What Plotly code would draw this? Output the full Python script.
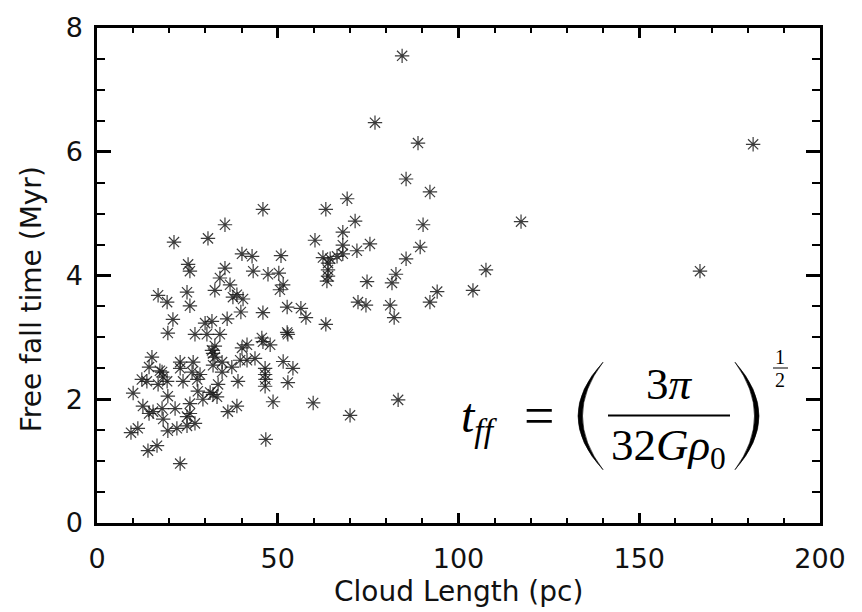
import plotly.graph_objects as go

# ---------------- data ----------------
cloud_length_pc = [
    84.4, 76.9, 88.8, 181.5, 85.5, 92.1, 69.2, 45.9, 63.3, 71.4,
    35.4, 90.2, 117.3, 21.3, 30.7, 60.3, 68.0, 68.0, 75.5, 40.1,
    42.9, 50.9, 62.5, 64.5, 66.4, 68.0, 71.9, 85.5, 89.4, 25.2,
    25.7, 35.4, 43.2, 47.3, 50.3, 63.9, 63.9, 63.9, 82.7, 107.6,
    166.8, 51.5, 50.6, 63.6, 74.7, 81.6, 94.1, 92.1, 104.0, 16.9,
    19.4, 24.9, 25.7, 32.6, 34.0, 36.8, 38.7, 37.6, 40.4, 39.8,
    45.9, 52.6, 56.4, 57.8, 63.3, 72.2, 74.4, 81.1, 82.2, 21.0,
    19.6, 27.1, 29.9, 31.8, 36.0, 30.4, 34.0, 52.6, 52.8, 45.6,
    45.9, 47.9, 32.6, 32.1, 40.1, 41.5, 15.2, 14.4, 18.0, 17.4,
    18.3, 12.4, 13.8, 16.9, 19.4, 23.0, 26.6, 23.0, 23.8, 28.5,
    10.0, 19.6, 25.7, 12.7, 14.4, 15.5, 18.0, 21.6, 18.3, 11.3,
    9.4, 19.6, 22.1, 24.9, 27.1, 25.7, 14.1, 16.6, 23.0, 31.8,
    32.6, 29.3, 32.1, 34.6, 37.3, 32.1, 34.6, 33.5, 33.2, 38.7,
    36.2, 51.5, 54.2, 46.5, 46.5, 46.5, 39.0, 52.8, 48.7, 59.8,
    46.7, 83.3, 70.0, 27.9, 39.6, 43.7, 26.3, 27.7, 31.3, 46.6,
    41.5, 24.9,
]
free_fall_myr = [
    7.55, 6.47, 6.14, 6.12, 5.56, 5.35, 5.24, 5.07, 5.07, 4.88,
    4.82, 4.82, 4.87, 4.54, 4.60, 4.57, 4.70, 4.49, 4.51, 4.35,
    4.31, 4.32, 4.29, 4.27, 4.31, 4.35, 4.40, 4.27, 4.46, 4.18,
    4.07, 4.12, 4.07, 4.02, 4.04, 4.20, 4.09, 3.99, 4.02, 4.09,
    4.07, 3.85, 3.77, 3.91, 3.90, 3.88, 3.74, 3.57, 3.76, 3.68,
    3.57, 3.73, 3.51, 3.76, 3.96, 3.85, 3.69, 3.65, 3.62, 3.41,
    3.40, 3.49, 3.47, 3.32, 3.21, 3.57, 3.52, 3.52, 3.32, 3.29,
    3.07, 3.05, 3.23, 3.26, 3.30, 3.05, 3.05, 3.08, 3.05, 2.99,
    2.93, 2.88, 2.86, 2.74, 2.83, 2.88, 2.68, 2.52, 2.44, 2.46,
    2.36, 2.32, 2.29, 2.24, 2.29, 2.60, 2.60, 2.50, 2.29, 2.40,
    2.10, 2.05, 1.93, 1.89, 1.77, 1.80, 1.85, 1.85, 1.68, 1.53,
    1.46, 1.49, 1.53, 1.57, 1.61, 1.77, 1.17, 1.25, 0.96, 2.79,
    2.68, 2.00, 2.08, 2.60, 2.52, 2.55, 2.44, 2.24, 2.04, 1.89,
    1.80, 2.61, 2.50, 2.50, 2.40, 2.21, 2.29, 2.27, 1.96, 1.94,
    1.35, 1.99, 1.74, 2.13, 2.63, 2.66, 2.44, 2.32, 2.11, 2.32,
    2.63, 1.72,
]

x_ticks = [0, 50, 100, 150, 200]
y_ticks = [0, 2, 4, 6, 8]
x_range = [0, 200]
y_range = [0, 8]
x_title = "Cloud Length (pc)"
y_title = "Free fall time (Myr)"

# ---------------- figure ----------------
W, H = 862, 612
L, R, T, B = 97, 820, 12, 523  # plot area in pixels


def pxx(v):
    return (v - L) / (R - L)


def pxy(v):
    return (B - v) / (B - T)


MARK = "rgba(25,25,25,0.85)"
fig = go.Figure()
fig.add_trace(go.Scatter(
    x=cloud_length_pc, y=free_fall_myr, mode="markers",
    marker=dict(symbol="asterisk-open", size=12, color=MARK,
                line=dict(width=1.2, color=MARK)),
    showlegend=False, hoverinfo="skip",
))
# empty helper trace so the mirrored (top/right) tick axes get drawn
fig.add_trace(go.Scatter(x=[], y=[], xaxis="x2", yaxis="y2",
                         showlegend=False, hoverinfo="skip"))

tickfont = dict(family="DejaVu Sans", size=27, color="#111")
common = dict(showline=True, linewidth=2.5, linecolor="black",
              ticks="inside", tickcolor="black", tickwidth=2.5,
              showgrid=False, zeroline=False)
xminor = dict(dtick=10, ticklen=5, ticks="inside", tickwidth=2, tickcolor="black")
yminor = dict(dtick=0.5, ticklen=8, ticks="inside", tickwidth=2, tickcolor="black")

fig.update_layout(
    width=W, height=H,
    margin=dict(l=L, r=W - R, t=T, b=H - B, pad=0),
    paper_bgcolor="white", plot_bgcolor="white",
    xaxis=dict(range=x_range, tickvals=x_ticks, ticklen=10, minor=xminor,
               mirror=True, tickfont=tickfont, ticklabelstandoff=10,
               ticklabeloverflow="allow", **common),
    yaxis=dict(range=y_range, tickvals=y_ticks, ticklen=14, minor=yminor,
               mirror=True, tickfont=tickfont, ticklabelstandoff=6,
               ticklabeloverflow="allow", **common),
    xaxis2=dict(range=x_range, tickvals=x_ticks, ticklen=10, minor=xminor,
                overlaying="x", side="top", anchor="y2", showticklabels=False,
                **common),
    yaxis2=dict(range=y_range, tickvals=y_ticks, ticklen=14, minor=yminor,
                overlaying="y", side="right", anchor="x2", showticklabels=False,
                **common),
)

ann = []
titlefont = dict(family="DejaVu Sans", size=28, color="#111")
ann.append(dict(text=x_title, x=pxx(458), y=pxy(594), xref="paper", yref="paper",
                showarrow=False, font=titlefont, xanchor="center", yanchor="middle"))
ann.append(dict(text=y_title, x=pxx(31), y=pxy(292), xref="paper", yref="paper",
                showarrow=False, font=titlefont, textangle=-90,
                xanchor="center", yanchor="middle"))

serif = "Liberation Serif"
# t_ff
ann.append(dict(text="<i>t</i><sub><i>ff</i></sub>", x=pxx(479), y=pxy(416),
                xref="paper", yref="paper", showarrow=False,
                font=dict(family=serif, size=48, color="black"),
                xanchor="center", yanchor="middle"))
# equals
ann.append(dict(text="=", x=pxx(539), y=pxy(413), xref="paper", yref="paper",
                showarrow=False, font=dict(family=serif, size=54, color="black"),
                xanchor="center", yanchor="middle"))
# numerator / denominator
ann.append(dict(text="3<i>π</i>", x=pxx(669), y=pxy(380), xref="paper", yref="paper",
                showarrow=False, font=dict(family=serif, size=45, color="black"),
                xanchor="center", yanchor="middle"))
ann.append(dict(text="32<i>Gρ</i><sub>0</sub>", x=pxx(668), y=pxy(446),
                xref="paper", yref="paper", showarrow=False,
                font=dict(family=serif, size=45, color="black"),
                xanchor="center", yanchor="middle"))
# exponent 1/2
ann.append(dict(text="1", x=pxx(780), y=pxy(352), xref="paper", yref="paper",
                showarrow=False, font=dict(family=serif, size=20, color="black"),
                xanchor="center", yanchor="middle"))
ann.append(dict(text="2", x=pxx(780), y=pxy(375), xref="paper", yref="paper",
                showarrow=False, font=dict(family=serif, size=20, color="black"),
                xanchor="center", yanchor="middle"))
fig.update_layout(annotations=ann)

shapes = []
# fraction bars
shapes.append(dict(type="line", xref="paper", yref="paper",
                   x0=pxx(608), x1=pxx(730), y0=pxy(412), y1=pxy(412),
                   line=dict(color="black", width=2)))
shapes.append(dict(type="line", xref="paper", yref="paper",
                   x0=pxx(773), x1=pxx(788), y0=pxy(363), y1=pxy(363),
                   line=dict(color="black", width=1)))


def paren(x_end, x_out, x_in, y_top, y_bot):
    ym = (y_top + y_bot) / 2
    c_out = 2 * x_out - x_end
    c_in = 2 * x_in - x_end
    return (f"M {pxx(x_end)},{pxy(y_top)} Q {pxx(c_out)},{pxy(ym)} {pxx(x_end)},{pxy(y_bot)} "
            f"Q {pxx(c_in)},{pxy(ym)} {pxx(x_end)},{pxy(y_top)} Z")


shapes.append(dict(type="path", xref="paper", yref="paper",
                   path=paren(603, 578, 582.5, 357, 468),
                   fillcolor="black", line=dict(color="black", width=0.6)))
shapes.append(dict(type="path", xref="paper", yref="paper",
                   path=paren(735, 759, 754.5, 357, 468),
                   fillcolor="black", line=dict(color="black", width=0.6)))
fig.update_layout(shapes=shapes)

fig.write_html("out.html")
